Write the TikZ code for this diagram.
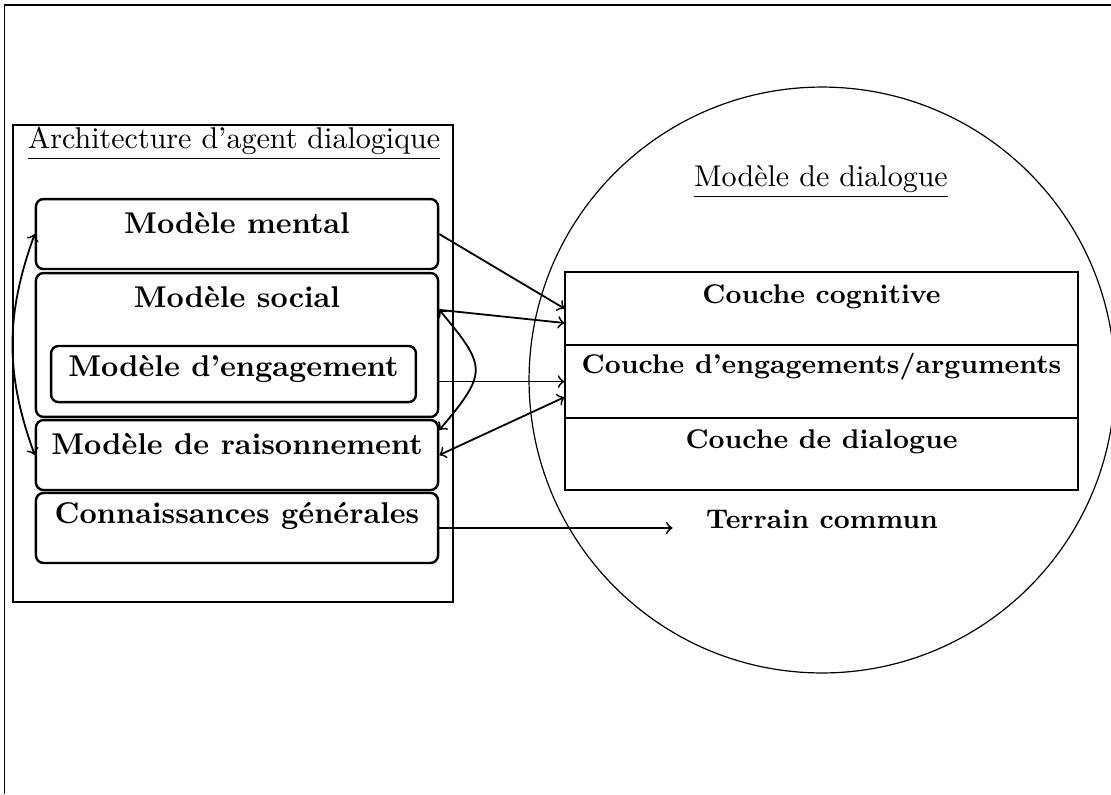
\documentclass[tikz,border=0pt]{standalone}
\usepackage{fontspec}
\begin{document}
\begin{tikzpicture}[x=0.333pt, y=-0.333pt,
        modele/.style={draw, thick, rounded corners=2.5pt, font=\bfseries, inner sep=0pt, anchor=base, minimum width=133.9pt},
        couche/.style={draw, font=\small\bfseries, inner sep=0pt, anchor=base, minimum width=170.8pt},
        lien/.style={semithick, ->},
        lienduo/.style={semithick, <->}]
            \useasboundingbox (0,0) rectangle (1111,794);
            \draw (1111,5) -- (4.5,5) -- (4.5,794);

            \node[draw, inner sep=0pt, minimum width=146.5pt, minimum height=158.8pt] (archi) at (233,363.5) {};
            \node[anchor=base] (titrearchi) at (234,148) {\underline{Architecture d'agent dialogique}};
            \node[modele, text height=11.3pt, text depth=12pt] (mental) at (237,233) {Modèle mental};
            \node[modele, text height=11.3pt, text depth=36.6pt] (social) at (237,307) {Modèle social};
            \node[modele, minimum width=121.5pt, text height=10pt, text depth=8.7pt] (engagement) at (233.5,376) {Modèle d'engagement};
            \node[modele, text height=11.3pt, text depth=12pt] (raisonnement) at (237,454) {Modèle de raisonnement};
            \node[modele, text height=10pt, text depth=13.3pt] (connaissances) at (237,523) {Connaissances générales};

            \node[draw, circle, inner sep=0pt, minimum size=195.1pt] (cercle) at (822,380) {};
            \node[anchor=base] (titredialogue) at (821,186) {\underline{Modèle de dialogue}};
            \node[couche, text height=10.3pt, text depth=14pt] (cognitive) at (821.5,303) {Couche cognitive};
            \node[couche, text height=9.3pt, text depth=15pt] (engagements) at (821.5,373) {Couche d'engagements/arguments};
            \node[couche, text height=10pt, text depth=14pt] (dialogue) at (821.5,448) {Couche de dialogue};
            \node[anchor=base, inner sep=0pt, font=\small\bfseries] (terrain) at (822,528) {Terrain commun};

            \draw[lien] (mental.east) -- (cognitive.west);
            \draw[lien] ([yshift=11.7pt]social.east) -- ([yshift=-4.8pt]cognitive.west);
            \draw[lien] (engagements.west -| social.east) -- (engagements.west);
            \draw[lienduo] (raisonnement.east) -- ([yshift=-5.2pt]engagements.west);
            \draw[lienduo] ([yshift=11.7pt]social.east) to[out=-50, in=50, looseness=1.6] ([yshift=8.3pt]raisonnement.east);
            \draw[lienduo] (mental.west) to[bend right=20] (raisonnement.west);
            \draw[lien] (connaissances.east) -- ([xshift=-11pt]connaissances.east -| terrain.west);
        \end{tikzpicture}
\end{document}
